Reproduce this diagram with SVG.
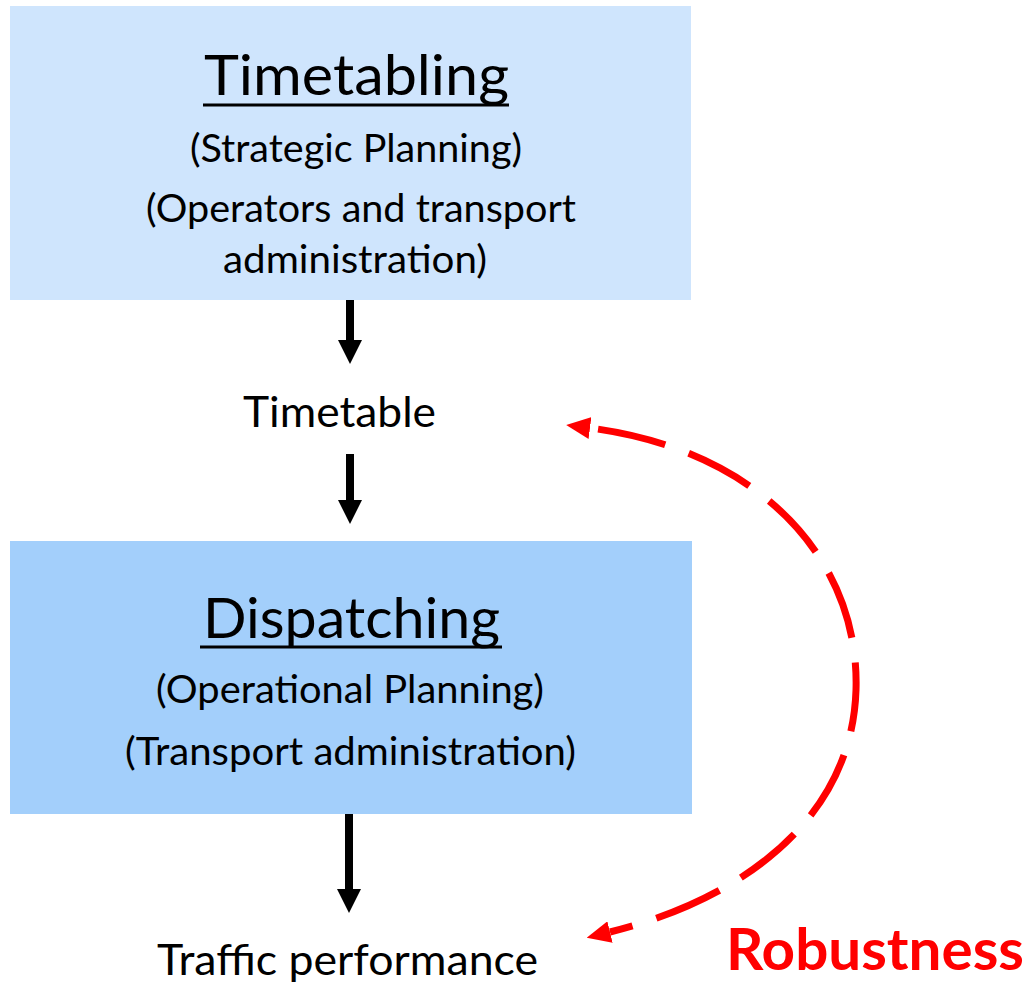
<svg xmlns="http://www.w3.org/2000/svg" width="1029" height="983" viewBox="0 0 1029 983">
<style>
  .t { font-family: Lato, "Liberation Sans", sans-serif; fill: #000; }
  .title { font-size: 57px; }
  .sub { font-size: 38px; }
  .lbl { font-size: 42px; }
  .ul { stroke: #000; stroke-width: 3; }
  .blk { stroke: #000; stroke-width: 8; fill: none; }
  .red { stroke: #FF0000; stroke-width: 7; fill: none; stroke-dasharray: 69 25; stroke-dashoffset: 86; }
</style>
<defs>
  <marker id="ab" markerUnits="userSpaceOnUse" markerWidth="24" markerHeight="24" refX="0" refY="12" orient="auto" viewBox="0 0 24 24">
    <path d="M0,0 L24,12 L0,24 z" fill="#000"/>
  </marker>
  <marker id="ar" markerUnits="userSpaceOnUse" markerWidth="24" markerHeight="22" refX="0" refY="11" orient="auto-start-reverse" viewBox="0 0 24 22">
    <path d="M0,0 L24,11 L0,22 z" fill="#FF0000"/>
  </marker>
</defs>
<rect width="1029" height="983" fill="#fff"/>
<g id="timetabling">
  <rect x="10" y="6" width="681" height="294" fill="#CFE5FD"/>
  <text class="t title" x="204" y="95" textLength="305" lengthAdjust="spacingAndGlyphs">Timetabling</text>
  <line class="ul" x1="203" y1="105" x2="509" y2="105"/>
  <text class="t sub" x="190" y="162" textLength="332" lengthAdjust="spacingAndGlyphs">(Strategic Planning)</text>
  <text class="t sub" x="146" y="222" textLength="430" lengthAdjust="spacingAndGlyphs">(Operators and transport</text>
  <text class="t sub" x="223" y="273" textLength="264" lengthAdjust="spacingAndGlyphs">administration)</text>
</g>
<g id="timetable">
  <text class="t lbl" x="243" y="427" textLength="193" lengthAdjust="spacingAndGlyphs">Timetable</text>
</g>
<g id="dispatching">
  <rect x="10" y="541" width="682" height="273" fill="#A3CFFB"/>
  <text class="t title" x="203" y="638" textLength="297" lengthAdjust="spacingAndGlyphs">Dispatching</text>
  <line class="ul" x1="200" y1="647" x2="502" y2="647"/>
  <text class="t sub" x="156" y="703" textLength="388" lengthAdjust="spacingAndGlyphs">(Operational Planning)</text>
  <text class="t sub" x="125" y="765" textLength="451" lengthAdjust="spacingAndGlyphs">(Transport administration)</text>
</g>
<g id="traffic">
  <text class="t lbl" x="157" y="975" textLength="381" lengthAdjust="spacingAndGlyphs">Traffic performance</text>
</g>
<g id="robustness">
  <text x="726" y="970" font-family="Lato, 'Liberation Sans', sans-serif" font-weight="bold" font-size="57" fill="#FF0000" textLength="298" lengthAdjust="spacingAndGlyphs">Robustness</text>
</g>
<g id="connectors">
  <line class="blk" x1="350" y1="300" x2="350" y2="340" marker-end="url(#ab)"/>
  <line class="blk" x1="350" y1="454" x2="350" y2="500" marker-end="url(#ab)"/>
  <line class="blk" x1="349" y1="814" x2="349" y2="889" marker-end="url(#ab)"/>
  <path class="red" d="M 590 428 C 760 450, 860 560, 856 690 C 852 820, 740 900, 610 932" marker-start="url(#ar)" marker-end="url(#ar)"/>
</g>
</svg>
